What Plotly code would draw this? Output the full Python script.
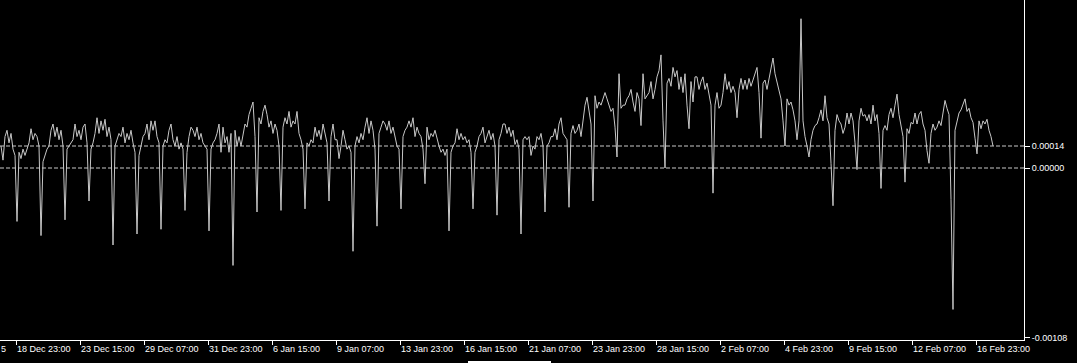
import numpy as np
import plotly.graph_objects as go

# Spread values in units of 1e-5, one point every 2 hourly bars (one row = one trading day)
spread_points = [
    14, 5, 20, 24, 16, 22, 12, 8, -34, 10, 6, 12,
    8, 12, 16, 25, 18, 22, 20, 14, -43, 4, 8, 12,
    14, 24, 28, 20, 26, 18, 24, 14, -33, 12, 14, 16,
    18, 28, 20, 24, 18, 26, 28, 16, -21, 12, 16, 22,
    32, 22, 30, 24, 31, 20, 26, 18, -49, 14, 18, 22,
    20, 26, 16, 22, 18, 24, 16, 10, -42, 8, 14, 20,
    22, 28, 18, 30, 24, 30, 20, 16, -39, 14, 18, 16,
    24, 28, 18, 14, 20, 12, 16, 12, -27, 10, 20, 26,
    24, 20, 26, 18, 22, 16, 14, 12, -40, 12, 16, 18,
    22, 28, 10, 26, 16, 20, 10, 22, -62, 24, 14, 20,
    14, 22, 28, 26, 34, 38, 42, 20, -28, 32, 28, 36,
    40, 34, 26, 30, 22, 28, 24, 14, -27, 26, 32, 28,
    36, 26, 30, 28, 36, 22, 18, 12, -26, 16, 14, 18,
    16, 26, 20, 24, 18, 28, 22, 16, -21, 20, 28, 18,
    18, 6, 14, 24, 18, 12, 14, 10, -53, 14, 20, 16,
    22, 18, 26, 32, 22, 30, 24, 12, -37, 22, 26, 30,
    28, 24, 30, 22, 26, 20, 14, 12, -26, 20, 24, 26,
    30, 26, 32, 20, 26, 22, 20, 12, -10, 26, 18, 22,
    20, 24, 18, 14, 10, 12, 8, 12, -40, 10, 14, 16,
    25, 18, 22, 18, 20, 16, 18, 10, -26, 10, 14, 20,
    22, 26, 16, 20, 24, 18, 22, 14, -30, 18, 22, 28,
    28, 22, 26, 20, 24, 15, 18, 12, -42, 18, 20, 18,
    20, 8, 14, 12, 20, 18, 22, 14, -28, 14, 16, 20,
    20, 25, 18, 28, 32, 22, 20, 18, -25, 22, 27, 22,
    24, 28, 20, 32, 40, 45, 36, 28, -21, 46, 38, 42,
    40, 44, 48, 44, 40, 36, 38, 26, 7, 60, 38, 40,
    40, 44, 46, 50, 42, 36, 48, 44, 27, 60, 44, 46,
    48, 55, 44, 50, 58, 62, 72, 30, 0, 54, 57, 52,
    64, 58, 62, 50, 58, 48, 60, 40, 25, 55, 42, 58,
    58, 50, 55, 58, 50, 54, 48, 40, -16, 40, 48, 38,
    40, 48, 60, 50, 55, 48, 52, 48, 32, 50, 57, 50,
    56, 50, 57, 52, 56, 60, 64, 48, 19, 54, 56, 50,
    56, 62, 70, 60, 54, 48, 44, 30, 14, 44, 40, 42,
    37, 30, 18, 30, 95, 30, 20, 14, 7, 18, 24, 27,
    28, 32, 37, 30, 46, 32, 28, 3, -24, 24, 34, 30,
    28, 22, 26, 35, 28, 35, 30, 16, -1, 30, 38, 33,
    34, 30, 34, 28, 40, 30, 34, 22, -13, 24, 27, 24,
    34, 38, 32, 40, 47, 34, 28, 20, -9, 25, 22, 29,
    28, 35, 28, 34, 36, 28, 24, 11, 3, 22, 28, 24,
    26, 30, 27, 35, 43, 38, 34, -20, -90, 24, 30, 35,
    37, 40, 44, 36, 38, 32, 29, 19, 9, 30, 25, 30,
    28, 31, 24, 20, 14,
]
first_bar = 1
bar_step = 2
total_bars = 1024

tick_bars = [16, 80, 144, 208, 272, 336, 400, 464, 528, 592, 656, 720, 784, 848, 912, 976]
tick_labels = ["18 Dec 23:00", "23 Dec 15:00", "29 Dec 07:00", "31 Dec 23:00",
               "6 Jan 15:00", "9 Jan 07:00", "13 Jan 23:00", "16 Jan 15:00",
               "21 Jan 07:00", "23 Jan 23:00", "28 Jan 15:00", "2 Feb 07:00",
               "4 Feb 23:00", "9 Feb 15:00", "12 Feb 07:00", "16 Feb 23:00"]
level_values = [0.00014, 0.0, -0.00108]
level_labels = ["0.00014", "0.00000", "-0.00108"]
dashed_levels = [0.00014, 0.0]
y_range = [-0.0010945, 0.0010691]

bars = first_bar + bar_step * np.arange(len(spread_points))
values = np.array(spread_points, dtype=float) * 1e-5

FONT = dict(family="Liberation Sans, Arial, sans-serif", size=9, color="#ffffff")

fig = go.Figure()
fig.add_trace(go.Scatter(x=bars, y=values, mode="lines",
                         line=dict(color="#c8c8c8", width=1),
                         hoverinfo="skip", showlegend=False))

for lv in dashed_levels:
    fig.add_shape(type="line", xref="x", yref="y", x0=0, x1=total_bars, y0=lv, y1=lv,
                  line=dict(color="#c8c8c8", width=1, dash="4px,2px"), layer="below")

# scrollbar thumb below the chart
fig.add_shape(type="rect", xref="paper", yref="paper",
              x0=468 / 1024, x1=551 / 1024, y0=-23 / 340, y1=-21 / 340,
              line=dict(width=0), fillcolor="#ffffff")

fig.add_annotation(text="5", xref="paper", yref="paper", x=0, y=-9 / 340,
                   xanchor="left", yanchor="middle", xshift=-1, showarrow=False, font=FONT)

fig.update_layout(
    template="none",
    width=1077, height=363,
    margin=dict(l=0, r=53, t=0, b=23, pad=0),
    paper_bgcolor="#000000", plot_bgcolor="#000000",
    showlegend=False,
    xaxis=dict(range=[0, total_bars], showgrid=False, zeroline=False,
               showline=True, linecolor="#ffffff", linewidth=1,
               ticks="outside", ticklen=4, tickwidth=1, tickcolor="#ffffff",
               tickvals=tick_bars, ticktext=tick_labels,
               ticklabelposition="outside right",
               tickfont=FONT, automargin=False, fixedrange=True),
    yaxis=dict(range=y_range, side="right", showgrid=False, zeroline=False,
               showline=True, linecolor="#ffffff", linewidth=1,
               ticks="outside", ticklen=5, tickwidth=1, tickcolor="#ffffff",
               tickvals=level_values, ticktext=level_labels,
               tickfont=FONT, automargin=False, fixedrange=True),
)

fig.write_html("out.html")
